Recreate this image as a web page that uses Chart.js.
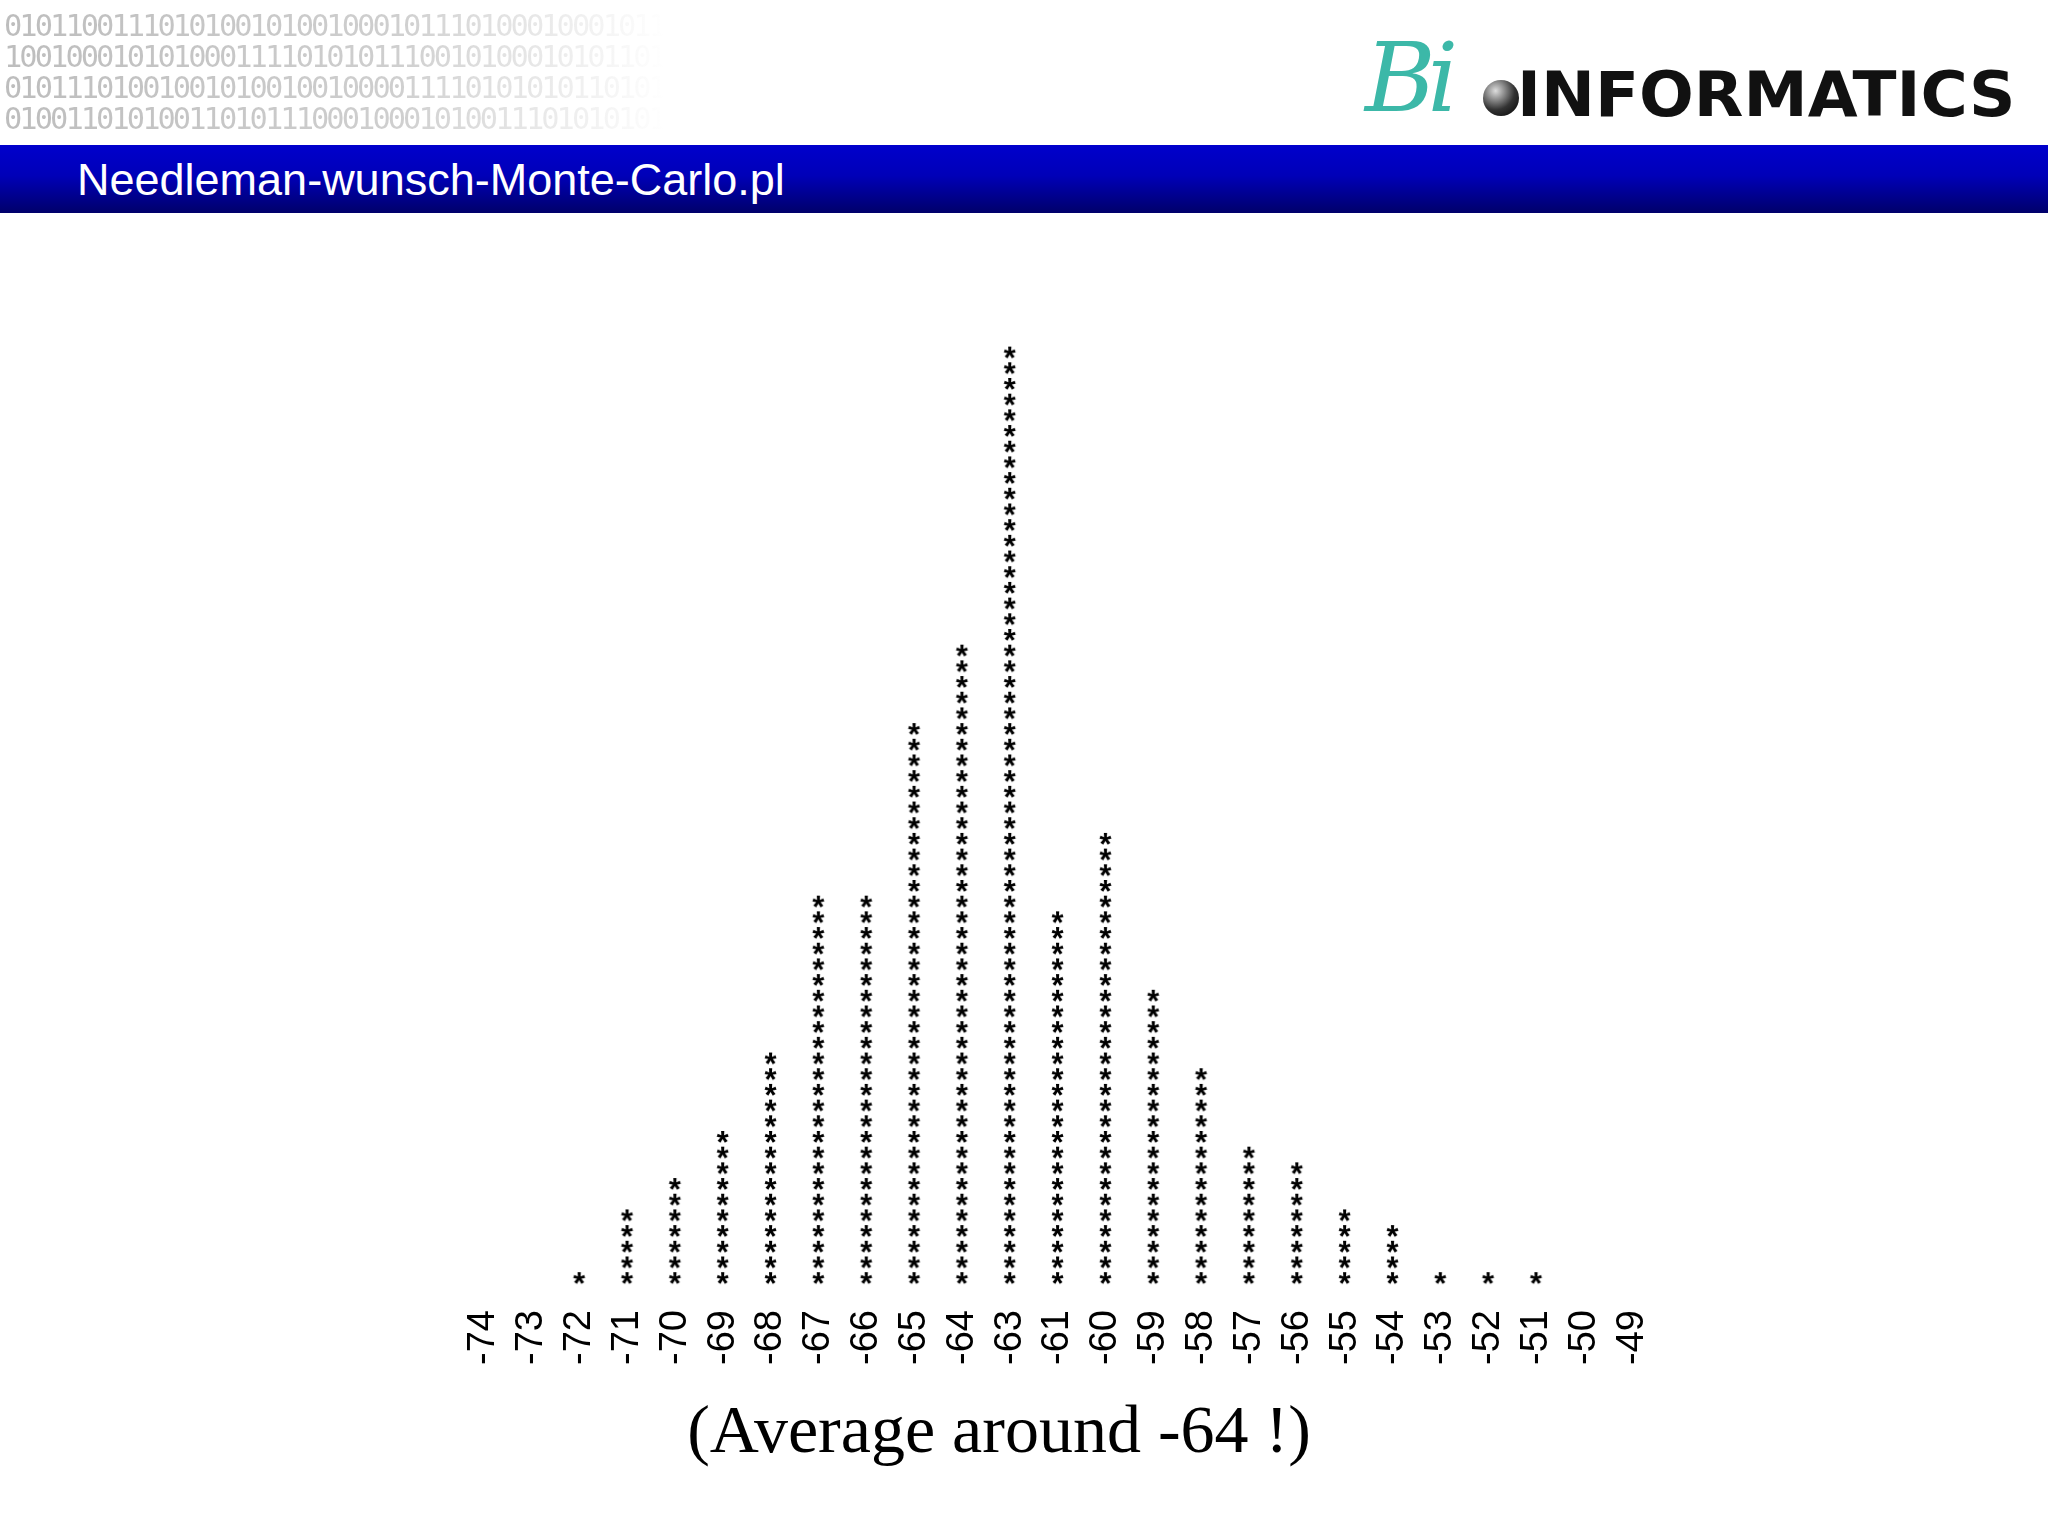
<!DOCTYPE html>
<html><head><meta charset="utf-8">
<script src="https://cdn.jsdelivr.net/npm/chart.js@4"></script>
<style>
html,body{margin:0;padding:0;width:2048px;height:1536px;background:#fff;overflow:hidden}
#bin{position:absolute;left:4px;top:10px;font-family:"DejaVu Sans Mono",monospace;font-size:31px;line-height:31px;letter-spacing:-3px;
  background:linear-gradient(90deg,#bdbdbd 0%,#cfcfcf 60%,#fff 100%);-webkit-background-clip:text;background-clip:text;color:transparent;transform:scaleX(0.98);transform-origin:left top;white-space:pre}
#band{position:absolute;left:0;top:145px;width:2048px;height:68px;background:linear-gradient(180deg,#0000cc 0%,#0000b8 45%,#00006a 100%)}
#band span{position:absolute;left:77px;top:9px;color:#fff;font-family:"Liberation Sans",Arial,sans-serif;font-size:45px}
#logo{position:absolute;left:1365px;top:22px;height:100px;width:680px}
#bi{position:absolute;left:0;top:0;font-family:"DejaVu Serif",serif;font-style:italic;font-size:96px;color:#3cb8a8;letter-spacing:-8px}
#ball{position:absolute;left:118px;top:58px;width:36px;height:36px;border-radius:50%;background:radial-gradient(circle at 35% 30%,#ddd,#333 55%,#000)}
#inf{position:absolute;left:152px;top:36px;font-family:"DejaVu Sans",sans-serif;font-weight:bold;font-size:62px;color:#111;transform:scaleX(1.04);transform-origin:left top;letter-spacing:0px}
#cap{position:absolute;left:0;width:1998px;text-align:center;top:1390px;font-family:"Liberation Serif","Times New Roman",serif;font-size:68px;color:#000}
#wrap{position:absolute;left:0;top:0;width:2048px;height:1536px}
</style></head><body>
<div id="bin">0101100111010100101001000101110100010001011
1001000101010001111010101110010100010101101
0101110100100101001001000011110101010110101
0100110101001101011100010001010011101010101</div>
<div id="logo"><div id="bi">Bi</div><div id="ball"></div><div id="inf">INFORMATICS</div></div>
<div id="band"><span>Needleman-wunsch-Monte-Carlo.pl</span></div>
<div id="wrap"><canvas id="c" width="2048" height="1536"></canvas></div>
<div id="cap">(Average around -64 !)</div>
<script>
const categories = ['-74','-73','-72','-71','-70','-69','-68','-67','-66','-65','-64','-63','-61','-60','-59','-58','-57','-56','-55','-54','-53','-52','-51','-50','-49'];
const counts     = [0,0,1,5,7,10,15,25,25,36,41,60,24,29,19,14,9,8,5,4,1,1,1,0,0];

const star = document.createElement('canvas');
star.width = 26; star.height = 26;
(function(){
  const g = star.getContext('2d');
  g.font = 'bold 31px "Liberation Sans", Arial, sans-serif';
  g.fillStyle = '#000';
  const m = g.measureText('*');
  const w = m.actualBoundingBoxLeft + m.actualBoundingBoxRight;
  const h = m.actualBoundingBoxAscent + m.actualBoundingBoxDescent;
  g.fillText('*', 13 - w/2 + m.actualBoundingBoxLeft, 13 - h/2 + m.actualBoundingBoxAscent);
})();

const points = [];
categories.forEach((c, i) => { for (let k = 1; k <= counts[i]; k++) points.push({x: c, y: k}); });

new Chart(document.getElementById('c'), {
  type: 'scatter',
  data: { labels: categories, datasets: [{ data: points, pointStyle: star, pointRadius: 13 }] },
  options: {
    responsive: false, animation: false, devicePixelRatio: 1,
    layout: { padding: { left: 460, right: 392, top: 202, bottom: 150 } },
    plugins: { legend: { display: false }, tooltip: { enabled: false } },
    scales: {
      x: { type: 'category', labels: categories, offset: true,
           grid: { display: false }, border: { display: false },
           afterFit: s => { s.height = 100; },
           ticks: { color: '#000', font: { family: '"Liberation Sans", Arial, sans-serif', size: 38 },
                    minRotation: 90, maxRotation: 90, padding: 16, autoSkip: false } },
      y: { display: false, min: 0.5, max: 69.6 }
    }
  }
});
</script>
</body></html>
